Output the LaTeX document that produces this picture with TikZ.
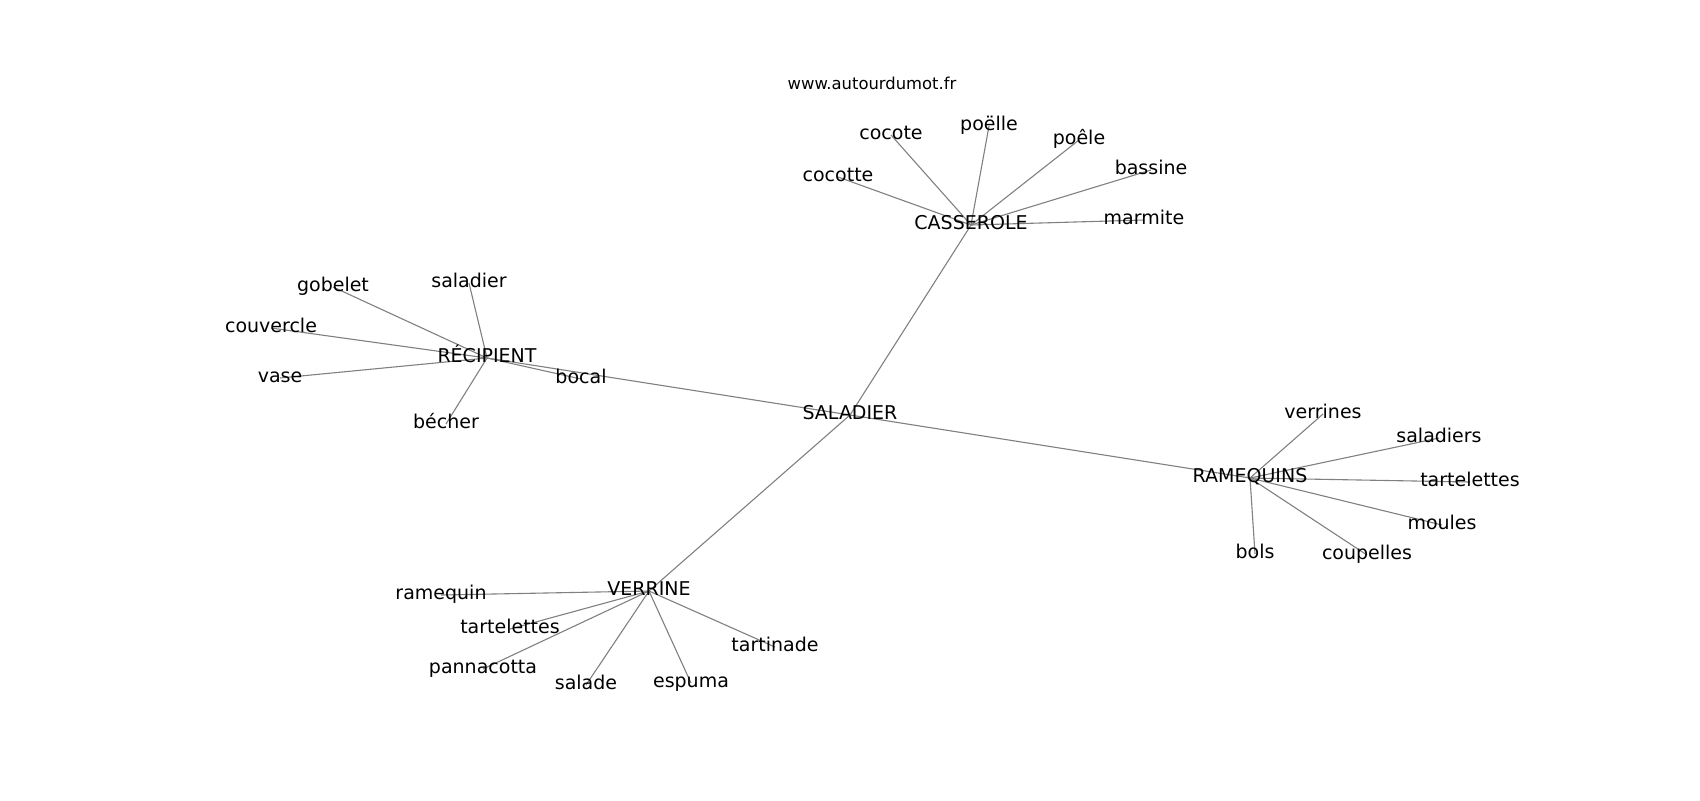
\documentclass[tikz,border=0pt]{standalone}
\usepackage{fontspec}
\setmainfont{DejaVu Sans}
\usetikzlibrary{backgrounds}

\begin{document}
\begin{tikzpicture}[x=0.5pt,y=-0.5pt,
	mot/.style={inner sep=0pt,text height=0.73em,text depth=0.24em,font=\fontsize{9.5}{11}\selectfont},
	lien/.style={draw=gray,line width=0.55pt}]
			\useasboundingbox (0,0) rectangle (1700,800);
			\node[inner sep=0pt,font=\fontsize{8.2}{10}\selectfont] (site) at (872,83) {www.autourdumot.fr};

			\node[mot] (saladier) at (850,415) {SALADIER};

			\node[mot] (casserole) at (971,225) {CASSEROLE};
			\node[mot] (cocotte) at (838,177) {cocotte};
			\node[mot] (cocote) at (891,135) {cocote};
			\node[mot] (poelle) at (989,126) {poëlle};
			\node[mot] (poele) at (1079,140) {poêle};
			\node[mot] (bassine) at (1151,170) {bassine};
			\node[mot] (marmite) at (1144,220) {marmite};

			\node[mot] (recipient) at (487,358) {RÉCIPIENT};
			\node[mot] (gobelet) at (333,287) {gobelet};
			\node[mot] (saladierR) at (469,283) {saladier};
			\node[mot] (couvercle) at (271,328) {couvercle};
			\node[mot] (vase) at (280,378) {vase};
			\node[mot] (bocal) at (581,379) {bocal};
			\node[mot] (becher) at (446,424) {bécher};

			\node[mot] (ramequins) at (1250,478) {RAMEQUINS};
			\node[mot] (verrines) at (1323,414) {verrines};
			\node[mot] (saladiers) at (1439,438) {saladiers};
			\node[mot] (tartR) at (1470,482) {tartelettes};
			\node[mot] (moules) at (1442,525) {moules};
			\node[mot] (bols) at (1255,554) {bols};
			\node[mot] (coupelles) at (1367,555) {coupelles};

			\node[mot] (verrine) at (649,591) {VERRINE};
			\node[mot] (ramequin) at (441,595) {ramequin};
			\node[mot] (tartV) at (510,629) {tartelettes};
			\node[mot] (pannacotta) at (483,669) {pannacotta};
			\node[mot] (salade) at (586,685) {salade};
			\node[mot] (espuma) at (691,683) {espuma};
			\node[mot] (tartinade) at (775,647) {tartinade};

			\begin{scope}[on background layer]
			\draw[lien] (saladier.center) -- (casserole.center);
			\draw[lien] (saladier.center) -- (recipient.center);
			\draw[lien] (saladier.center) -- (ramequins.center);
			\draw[lien] (saladier.center) -- (verrine.center);

			\draw[lien] (casserole.center) -- (cocotte.center);
			\draw[lien] (casserole.center) -- (cocote.center);
			\draw[lien] (casserole.center) -- (poelle.center);
			\draw[lien] (casserole.center) -- (poele.center);
			\draw[lien] (casserole.center) -- (bassine.center);
			\draw[lien] (casserole.center) -- (marmite.center);

			\draw[lien] (recipient.center) -- (gobelet.center);
			\draw[lien] (recipient.center) -- (saladierR.center);
			\draw[lien] (recipient.center) -- (couvercle.center);
			\draw[lien] (recipient.center) -- (vase.center);
			\draw[lien] (recipient.center) -- (bocal.center);
			\draw[lien] (recipient.center) -- (becher.center);

			\draw[lien] (ramequins.center) -- (verrines.center);
			\draw[lien] (ramequins.center) -- (saladiers.center);
			\draw[lien] (ramequins.center) -- (tartR.center);
			\draw[lien] (ramequins.center) -- (moules.center);
			\draw[lien] (ramequins.center) -- (bols.center);
			\draw[lien] (ramequins.center) -- (coupelles.center);

			\draw[lien] (verrine.center) -- (ramequin.center);
			\draw[lien] (verrine.center) -- (tartV.center);
			\draw[lien] (verrine.center) -- (pannacotta.center);
			\draw[lien] (verrine.center) -- (salade.center);
			\draw[lien] (verrine.center) -- (espuma.center);
			\draw[lien] (verrine.center) -- (tartinade.center);
			\end{scope}
			\end{tikzpicture}
\end{document}
